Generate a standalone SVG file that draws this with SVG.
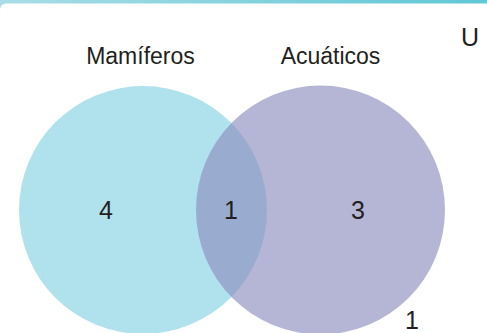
<svg xmlns="http://www.w3.org/2000/svg" width="487" height="333" viewBox="0 0 487 333">
  <defs>
    <linearGradient id="band" x1="0" y1="0" x2="1" y2="0">
      <stop offset="0" stop-color="#a9dde6"/>
      <stop offset="1" stop-color="#5fc7d5"/>
    </linearGradient>
    <style>
      text { font-family: "Liberation Sans", Arial, sans-serif; fill: #231f20; text-anchor: middle; }
      .lbl { font-size: 23px; }
      .num { font-size: 25px; }
    </style>
  </defs>
  <rect x="0" y="0" width="487" height="10" fill="url(#band)"/>
  <rect x="0" y="3.5" width="500" height="340" rx="6" fill="#ffffff"/>

  <g id="set-mamiferos">
    <circle cx="143" cy="210" r="124" fill="#b0e2ee"/>
  </g>
  <g id="set-acuaticos">
    <circle cx="320.5" cy="210" r="124.5" fill="#8d8fc0" fill-opacity="0.65"/>
  </g>

  <g id="labels">
    <text class="lbl" x="140.5" y="64">Mamíferos</text>
    <text class="lbl" x="330.5" y="64">Acuáticos</text>
    <text class="num" x="470" y="46">U</text>
  </g>
  <g id="counts">
    <text class="num" x="106" y="219">4</text>
    <text class="num" x="231" y="219">1</text>
    <text class="num" x="358" y="219">3</text>
    <text class="num" x="412" y="329">1</text>
  </g>
</svg>
